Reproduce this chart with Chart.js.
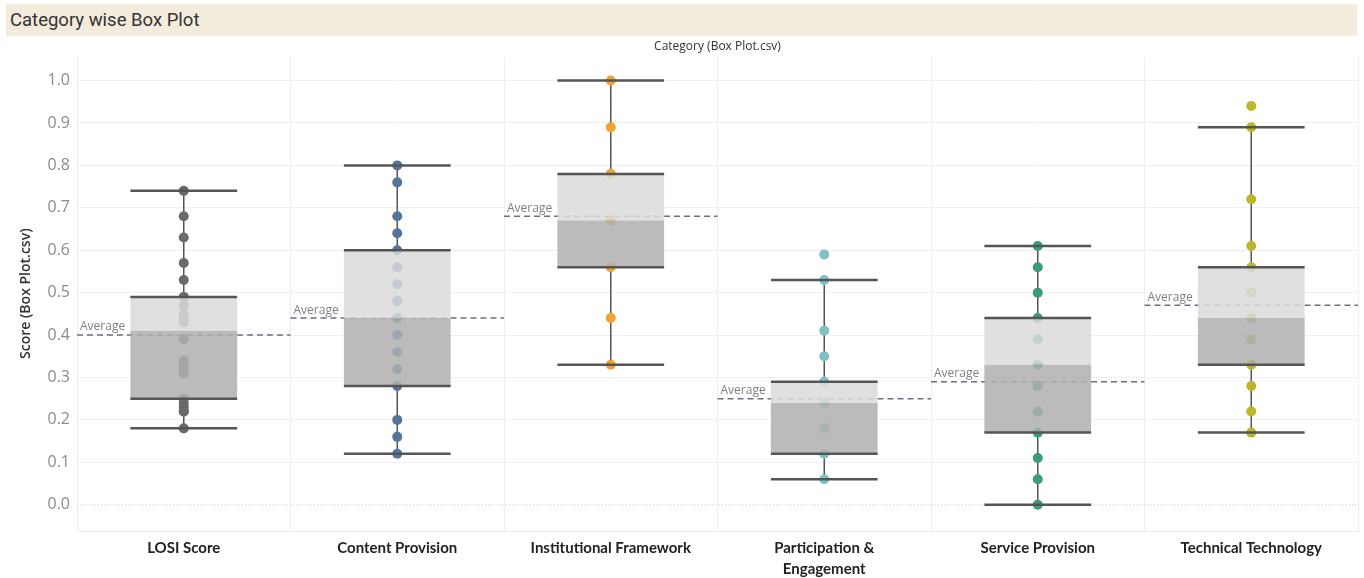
<!DOCTYPE html>
<html>
<head>
<meta charset="utf-8">
<script src="https://cdn.jsdelivr.net/npm/chart.js@4/dist/chart.umd.min.js"></script>
<style>
  html, body { margin: 0; padding: 0; background: #fff; }
  #titleBar {
    position: absolute; left: 6px; top: 4px; width: 1351px; height: 32px;
    background: #f3ebdb; box-sizing: border-box; padding-left: 4px;
    font-family: 'Liberation Sans Narrow', Roboto, sans-serif; font-size: 18.5px;
    line-height: 32px; color: #333;
  }
  #wrap { position: absolute; left: 0; top: 38px; width: 1364px; height: 540px; }
</style>
</head>
<body>
<div id="titleBar">Category wise Box Plot</div>
<div id="wrap"><canvas id="boxChart"></canvas></div>
<script>
(function () {
    const categories = ['LOSI Score', 'Content Provision', 'Institutional Framework',
        'Participation & Engagement', 'Service Provision', 'Technical Technology'];
    const tickLabels = ['LOSI Score', 'Content Provision', 'Institutional Framework',
        ['Participation &', 'Engagement'], 'Service Provision', 'Technical Technology'];

    // individual scores per category
    const losiScore = [0.74, 0.68, 0.63, 0.57, 0.53, 0.49, 0.47, 0.45, 0.44, 0.43, 0.39,
        0.34, 0.33, 0.32, 0.31, 0.25, 0.24, 0.23, 0.22, 0.22, 0.18];
    const contentProvision = [0.80, 0.76, 0.68, 0.64, 0.60, 0.56, 0.52, 0.48, 0.44, 0.40,
        0.36, 0.32, 0.28, 0.20, 0.16, 0.12];
    const institutionalFramework = [1.00, 0.89, 0.78, 0.67, 0.56, 0.44, 0.33];
    const participationEngagement = [0.59, 0.53, 0.41, 0.35, 0.29, 0.24, 0.18, 0.12, 0.06];
    const serviceProvision = [0.61, 0.56, 0.50, 0.44, 0.39, 0.33, 0.28, 0.22, 0.17, 0.11, 0.06, 0.00];
    const technicalTechnology = [0.94, 0.89, 0.72, 0.61, 0.56, 0.50, 0.44, 0.39, 0.33, 0.28, 0.22, 0.17];

    // box statistics
    const q1 = [0.25, 0.28, 0.56, 0.12, 0.17, 0.33];
    const median = [0.41, 0.44, 0.67, 0.24, 0.33, 0.44];
    const q3 = [0.49, 0.60, 0.78, 0.29, 0.44, 0.56];
    const whiskerLow = [0.18, 0.12, 0.33, 0.06, 0.00, 0.17];
    const whiskerHigh = [0.74, 0.80, 1.00, 0.53, 0.61, 0.89];
    const averages = [0.40, 0.44, 0.68, 0.25, 0.29, 0.47];

    const seriesValues = [losiScore, contentProvision, institutionalFramework,
        participationEngagement, serviceProvision, technicalTechnology];
    const pointColors = ['#6a6a6a', '#54749c', '#f2a32e', '#82c0c7', '#3b9b7b', '#bdb62a'];

    const boxPlugin = {
        id: 'boxParts',
        beforeDatasetsDraw(chart) {
            const { ctx, scales: { x, y } } = chart;
            const col = x.width / categories.length;
            ctx.save();
            // zero line (dotted)
            ctx.strokeStyle = '#d0d0d0';
            ctx.lineWidth = 1;
            ctx.setLineDash([1, 2]);
            ctx.beginPath();
            ctx.moveTo(x.left, y.getPixelForValue(0));
            ctx.lineTo(x.right, y.getPixelForValue(0));
            ctx.stroke();
            // average lines
            ctx.strokeStyle = '#6b7080';
            ctx.lineWidth = 1.5;
            ctx.setLineDash([6, 4]);
            averages.forEach((a, i) => {
                const cx = x.getPixelForValue(i);
                const py = y.getPixelForValue(a);
                ctx.beginPath();
                ctx.moveTo(cx - col / 2, py);
                ctx.lineTo(cx + col / 2, py);
                ctx.stroke();
            });
            // whisker stems
            ctx.setLineDash([]);
            ctx.strokeStyle = '#555';
            ctx.lineWidth = 1.5;
            categories.forEach((c, i) => {
                const cx = x.getPixelForValue(i);
                ctx.beginPath();
                ctx.moveTo(cx, y.getPixelForValue(whiskerLow[i]));
                ctx.lineTo(cx, y.getPixelForValue(q1[i]));
                ctx.moveTo(cx, y.getPixelForValue(q3[i]));
                ctx.lineTo(cx, y.getPixelForValue(whiskerHigh[i]));
                ctx.stroke();
            });
            ctx.restore();
        },
        afterDatasetsDraw(chart) {
            const { ctx, scales: { x, y } } = chart;
            const col = x.width / categories.length;
            const half = col * 0.25;
            ctx.save();
            ctx.strokeStyle = '#555';
            ctx.lineWidth = 2.5;
            categories.forEach((c, i) => {
                const cx = x.getPixelForValue(i);
                [whiskerLow[i], q1[i], q3[i], whiskerHigh[i]].forEach(v => {
                    const py = y.getPixelForValue(v);
                    ctx.beginPath();
                    ctx.moveTo(cx - half, py);
                    ctx.lineTo(cx + half, py);
                    ctx.stroke();
                });
            });
            // "Average" labels
            ctx.font = '12px "Open Sans", sans-serif';
            ctx.textBaseline = 'bottom';
            averages.forEach((a, i) => {
                const left = x.getPixelForValue(i) - col / 2;
                const py = y.getPixelForValue(a);
                const w = ctx.measureText('Average').width;
                ctx.fillStyle = '#fff';
                ctx.fillRect(left + 1, py - 18, w + 6, 16);
                ctx.fillStyle = '#808080';
                ctx.fillText('Average', left + 3, py - 2);
            });
            ctx.restore();
        }
    };

    function initBoxChart() {
        const canvas = document.getElementById('boxChart');
        if (!canvas || !window.Chart) return;

        const pointSets = seriesValues.map((vals, i) => ({
            type: 'line',
            label: categories[i],
            data: vals.map(v => ({ x: categories[i], y: v })),
            showLine: false,
            pointRadius: 5,
            pointHoverRadius: 5,
            pointBorderWidth: 0,
            pointBackgroundColor: pointColors[i],
            order: 2
        }));

        new Chart(canvas.getContext('2d'), {
            data: {
                labels: categories,
                datasets: [
                    {
                        type: 'bar',
                        label: 'lower',
                        data: q1.map((v, i) => [v, median[i]]),
                        backgroundColor: 'rgba(175,175,175,0.85)',
                        grouped: false,
                        barPercentage: 0.5,
                        categoryPercentage: 1,
                        order: 0
                    },
                    {
                        type: 'bar',
                        label: 'upper',
                        data: median.map((v, i) => [v, q3[i]]),
                        backgroundColor: 'rgba(218,218,218,0.85)',
                        grouped: false,
                        barPercentage: 0.5,
                        categoryPercentage: 1,
                        order: 0
                    },
                    ...pointSets
                ]
            },
            options: {
                responsive: true,
                maintainAspectRatio: false,
                animation: false,
                layout: { padding: { right: 6 } },
                plugins: {
                    legend: { display: false },
                    tooltip: { enabled: false },
                    title: {
                        display: true,
                        fullSize: false,
                        text: 'Category (Box Plot.csv)',
                        color: '#333',
                        font: { family: '"Open Sans", sans-serif', size: 12, weight: 'normal' },
                        padding: { top: 1, bottom: 3 }
                    }
                },
                scales: {
                    x: {
                        type: 'category',
                        offset: true,
                        grid: { offset: true, color: '#eeeeee', drawTicks: false },
                        border: { color: '#eeeeee' },
                        ticks: {
                            padding: 6,
                            color: '#222',
                            font: { family: 'Lato, sans-serif', size: 15, weight: 'bold', lineHeight: 1.45 },
                            maxRotation: 0,
                            autoSkip: false,
                            callback: (v, i) => tickLabels[i]
                        },
                        afterFit: s => { s.height = 47; }
                    },
                    y: {
                        min: -0.062,
                        max: 1.057,
                        grid: {
                            color: ctx => (ctx.tick && Math.abs(ctx.tick.value) < 1e-9) ? 'rgba(0,0,0,0)' : '#f0f0f0',
                            drawTicks: false
                        },
                        border: { display: false },
                        ticks: {
                            stepSize: 0.1,
                            padding: 7,
                            color: '#8c8c8c',
                            font: { family: '"Open Sans", sans-serif', size: 16 },
                            callback: v => Number(v).toFixed(1)
                        },
                        afterBuildTicks: s => {
                            s.ticks = s.ticks.filter(t => t.value > -1e-9 && t.value < 1.0001);
                        },
                        title: {
                            display: true,
                            text: 'Score (Box Plot.csv)',
                            color: '#333',
                            font: { family: '"Open Sans", sans-serif', size: 14, weight: '600' },
                            padding: { top: 18, bottom: 4 }
                        },
                        afterFit: s => { s.width = 77; }
                    }
                }
            },
            plugins: [boxPlugin]
        });
    }

    initBoxChart();
})();
</script>
</body>
</html>
